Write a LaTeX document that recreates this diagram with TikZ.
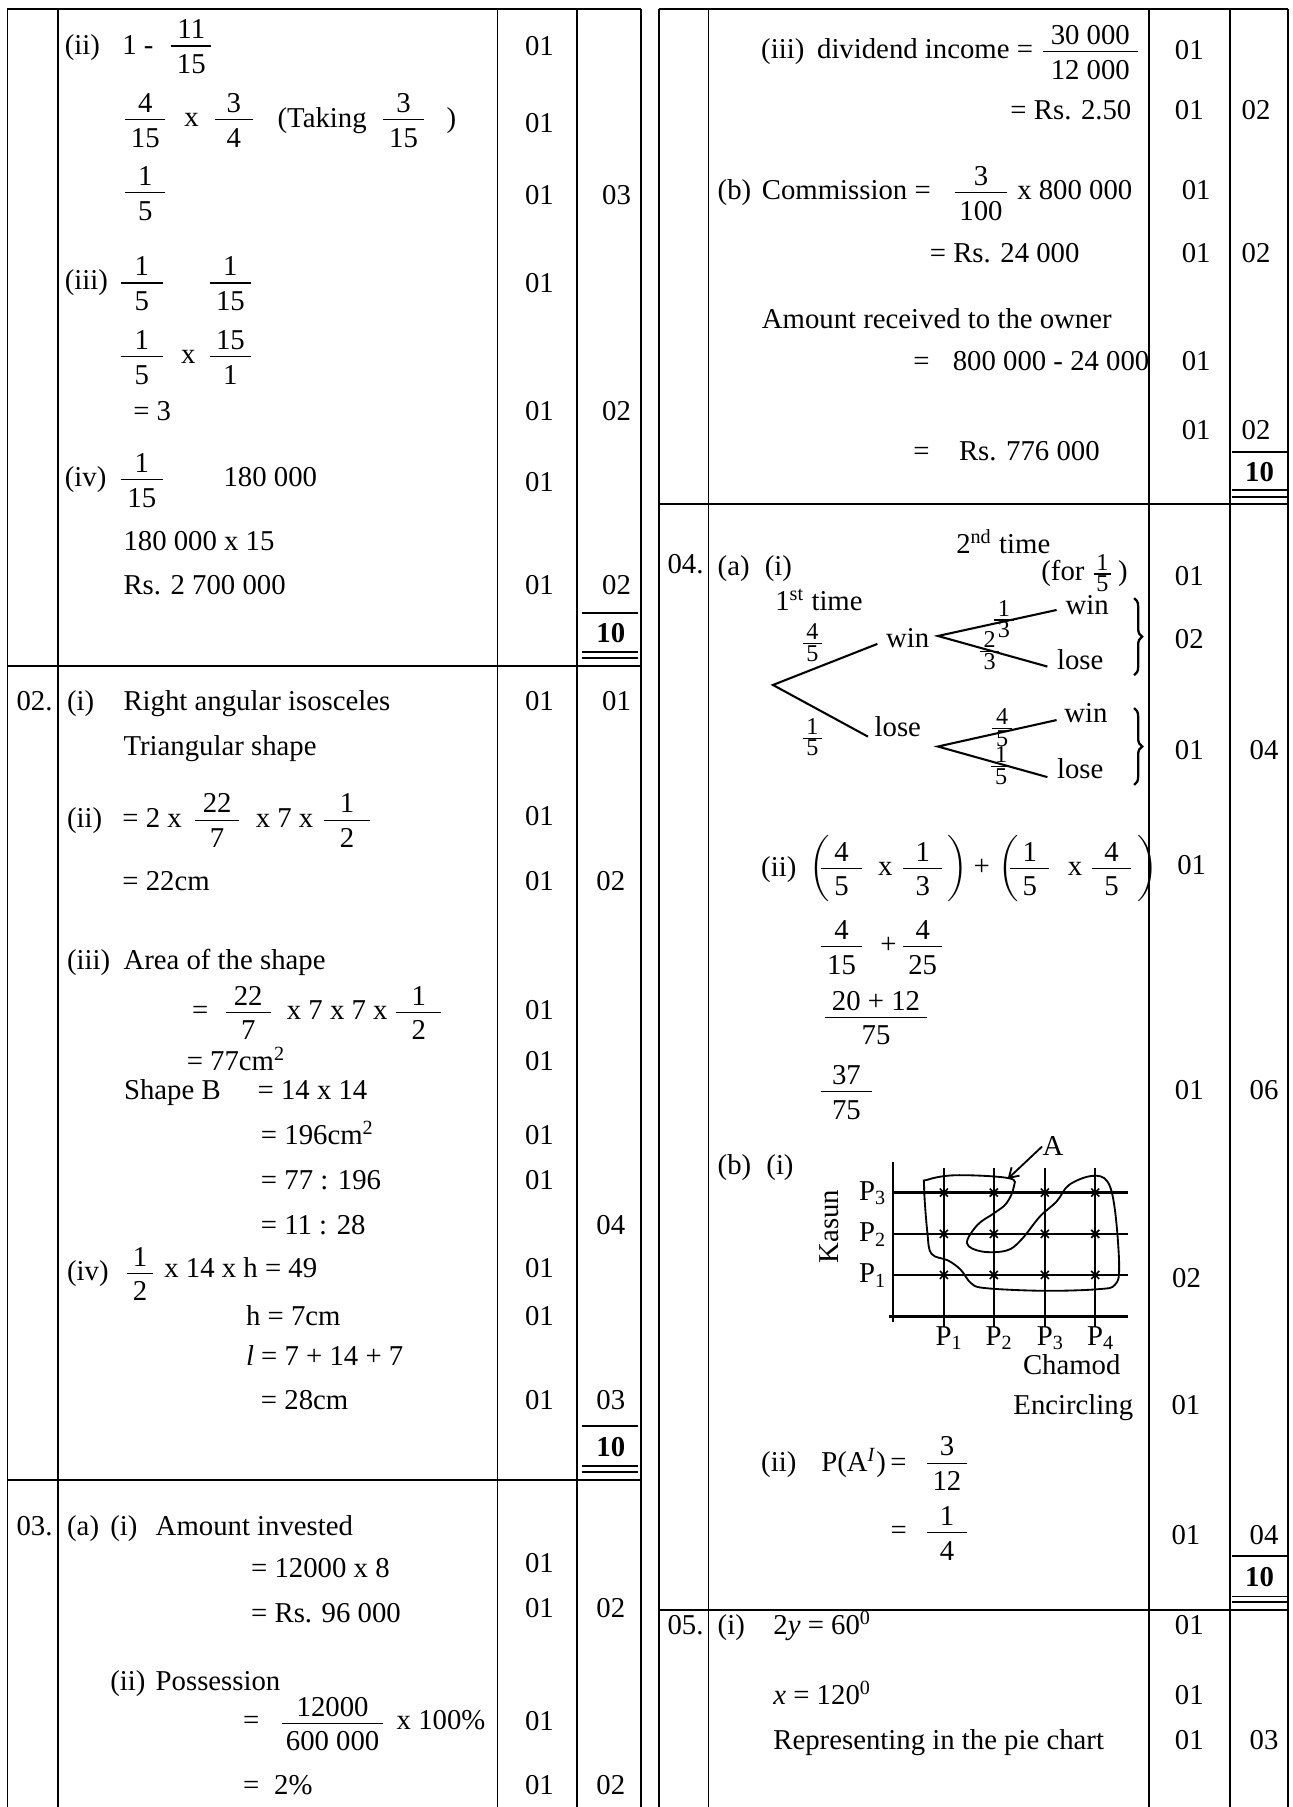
\documentclass[tikz,border=0pt]{standalone}
\usepackage{fontspec}
\setmainfont{Liberation Serif}
\usepackage{amsmath}
\usetikzlibrary{arrows.meta}
\usetikzlibrary{decorations,decorations.pathreplacing}

\newcommand{\fr}[3][17.5pt]{\ensuremath{\dfrac{\text{\raisebox{-2pt}{\makebox[#1]{#2}}}}{\text{\raisebox{-0.7pt}{\makebox[#1]{#3}}}}}}
\newcommand{\sfr}[3][8.5pt]{\ensuremath{\frac{\hbox{\fontsize{10.5}{11}\selectfont\makebox[#1]{#2}}}{\hbox{\fontsize{10.5}{11}\selectfont\makebox[#1]{#3}}}}}

\begin{document}
\begin{tikzpicture}[x=0.5pt,y=-0.5pt,
  font=\fontsize{12.5}{15}\selectfont,
  txt/.style={anchor=base west,inner sep=0pt},
  rtxt/.style={anchor=base east,inner sep=0pt},
  num/.style={anchor=base,inner sep=0pt},
  tot/.style={anchor=base,inner sep=0pt,font=\fontsize{12.5}{15}\selectfont\bfseries},
  frame/.style={line width=0.8pt},
  sep/.style={line width=1.1pt},
  branch/.style={line width=0.9pt},
  bracket/.style={decorate,decoration={brace,amplitude=3.5pt},line width=1pt}]
  \useasboundingbox (0,0) rectangle (1124,1571);

  % frames
  \draw[frame] (6.5,8) -- (557,8);
  \draw[frame] (573,8) -- (1120,8);
  \foreach \x in {6.5,50.4,432.5,502,557,573,616,999,1069,1120}
    \draw[frame] (\x,8) -- (\x,1571);
  \draw[sep] (6.5,579) -- (557,579);
  \draw[sep] (6.5,1286.6) -- (557,1286.6);
  \draw[sep] (573,438) -- (1120,438);
  \draw[sep] (573,1399.6) -- (1120,1399.6);

  % totals
  \draw[frame] (506,533) -- (555,533) (506,566.5) -- (555,566.5) (506,572) -- (555,572);
  \node[tot] (tot1) at (531,558.5) {10};
  \draw[frame] (506,1239.6) -- (555,1239.6) (506,1274.4) -- (555,1274.4) (506,1279.6) -- (555,1279.6);
  \node[tot] (tot2) at (531,1266) {10};
  \draw[frame] (1071,392.6) -- (1120,392.6) (1071,426) -- (1120,426) (1071,431.8) -- (1120,431.8);
  \node[tot] (tot3) at (1095,418.3) {10};
  \draw[frame] (1071,1353) -- (1120,1353) (1071,1388) -- (1120,1388) (1071,1393) -- (1120,1393);
  \node[tot] (tot4) at (1095,1379) {10};

  % question 1 (rest)
  \node[txt] (l1a) at (56,47.5) {(ii)};
  \node[txt] (l1b) at (106,47.5) {1 -};
  \node[txt] (l1c) at (146,46) {\fr{11}{15}};
  \node[num] (l1d) at (469,48) {01};
  \node[txt] (l2a) at (106,110) {\fr{4}{15}};
  \node[txt] (l2b) at (160,110) {x};
  \node[txt] (l2c) at (184,110) {\fr[16.5pt]{3}{4}};
  \node[txt] (l2d) at (241,110.5) {(Taking};
  \node[txt] (l2e) at (330,110) {\fr[18pt]{3}{15}};
  \node[txt] (l2f) at (388,110.5) {)};
  \node[num] (l2g) at (469,115) {01};
  \node[txt] (l3a) at (106,173.5) {\fr{1}{5}};
  \node[num] (l3b) at (469,177.5) {01};
  \node[num] (l3c) at (536,177.5) {03};
  \node[txt] (l4a) at (56,252) {(iii)};
  \node[txt] (l4b) at (102,252) {\fr[18.5pt]{1}{5}};
  \node[txt] (l4c) at (180,252) {\fr{1}{15}};
  \node[num] (l4d) at (469,254) {01};
  \node[txt] (l5a) at (102,316) {\fr[18.5pt]{1}{5}};
  \node[txt] (l5b) at (157,316) {x};
  \node[txt] (l5c) at (180,316) {\fr{15}{1}};
  \node[txt] (l6a) at (115.5,366) {= 3};
  \node[num] (l6b) at (469,366) {01};
  \node[num] (l6c) at (536,366) {02};
  \node[txt] (l7a) at (56,423) {(iv)};
  \node[txt] (l7b) at (102,423) {\fr[18.5pt]{1}{15}};
  \node[txt] (l7c) at (194,423) {180 000};
  \node[num] (l7d) at (469,427.6) {01};
  \node[txt] (l8a) at (107,479) {180 000 x 15};
  \node[txt] (l9a) at (107,516.5) {Rs. 2 700 000};
  \node[num] (l9b) at (469,516.5) {01};
  \node[num] (l9c) at (536,516.5) {02};

  % question 2
  \node[txt] (q2) at (14,618) {02.};
  \node[txt] (m1a) at (58,618) {(i)};
  \node[txt] (m1b) at (107,618) {Right angular isosceles};
  \node[num] (m1c) at (469,618) {01};
  \node[num] (m1d) at (536,618) {01};
  \node[txt] (m2a) at (107,657) {Triangular shape};
  \node[txt] (m3a) at (58,719) {(ii)};
  \node[txt] (m3b) at (106,719) {= 2 x};
  \node[txt] (m3c) at (167,719) {\fr[19pt]{22}{7}};
  \node[txt] (m3d) at (222,719) {x 7 x};
  \node[txt] (m3e) at (279,719) {\fr[20pt]{1}{2}};
  \node[num] (m3f) at (469,718) {01};
  \node[txt] (m4a) at (106,774.5) {= 22cm};
  \node[num] (m4b) at (469,774.5) {01};
  \node[num] (m4c) at (531,774.5) {02};
  \node[txt] (m5a) at (58,842.5) {(iii)};
  \node[txt] (m5b) at (107,842.5) {Area of the shape};
  \node[txt] (m6a) at (166.6,886) {=};
  \node[txt] (m6b) at (193.5,886.25) {\fr[19.5pt]{22}{7}};
  \node[txt] (m6c) at (249,886) {x 7 x 7 x};
  \node[txt] (m6d) at (341.5,886.25) {\fr[19.75pt]{1}{2}};
  \node[num] (m6e) at (469,886) {01};
  \node[txt] (m7a) at (162,931) {= 77cm\textsuperscript{2}};
  \node[num] (m7b) at (469,931) {01};
  \node[txt] (m8a) at (107.5,955.6) {Shape B};
  \node[txt] (m8b) at (223.6,955.6) {= 14 x 14};
  \node[txt] (m9a) at (226.5,994.6) {= 196cm\textsuperscript{2}};
  \node[num] (m9b) at (469,994.6) {01};
  \node[txt] (m10a) at (226.5,1033.8) {= 77 : 196};
  \node[num] (m10b) at (469,1033.8) {01};
  \node[txt] (m11a) at (226.5,1073) {= 11 : 28};
  \node[num] (m11b) at (531,1073) {04};
  \node[txt] (m12a) at (58,1113) {(iv)};
  \node[txt] (m12b) at (107.6,1113) {\fr[11.4pt]{1}{2}};
  \node[txt] (m12c) at (142.5,1111) {x 14 x h = 49};
  \node[num] (m12d) at (469,1110.6) {01};
  \node[txt] (m13a) at (213.5,1152.6) {h = 7cm};
  \node[num] (m13b) at (469,1152.6) {01};
  \node[txt] (m14a) at (213.5,1187.4) {\textit{l} = 7 + 14 + 7};
  \node[txt] (m15a) at (226.5,1225) {= 28cm};
  \node[num] (m15b) at (469,1225) {01};
  \node[num] (m15c) at (531,1225) {03};

  % question 3
  \node[txt] (q3) at (14,1335) {03.};
  \node[txt] (n1a) at (58,1335) {(a)};
  \node[txt] (n1b) at (95.6,1335) {(i)};
  \node[txt] (n1c) at (135,1335) {Amount invested};
  \node[txt] (n2a) at (218,1371.4) {= 12000 x 8};
  \node[num] (n2b) at (469,1367) {01};
  \node[txt] (n3a) at (218,1410.5) {= Rs. 96 000};
  \node[num] (n3b) at (469,1406) {01};
  \node[num] (n3c) at (531,1406) {02};
  \node[txt] (n4a) at (95.6,1470) {(ii)};
  \node[txt] (n4b) at (135,1470) {Possession};
  \node[txt] (n5a) at (211,1504) {=};
  \node[txt] (n5b) at (242.6,1504.25) {\fr[43.8pt]{12000}{600 000}};
  \node[txt] (n5c) at (344.5,1504) {x 100\%};
  \node[num] (n5d) at (469,1504.7) {01};
  \node[txt] (n6a) at (211,1559.7) {=};
  \node[txt] (n6b) at (238,1559.7) {2\%};
  \node[num] (n6c) at (469,1559.7) {01};
  \node[num] (n6d) at (531,1559.7) {02};

  % question 3 (rest)
  \node[txt] (r1a) at (661.4,51) {(iii)};
  \node[txt] (r1b) at (710,51) {dividend income =};
  \node[txt] (r1c) at (903.6,51) {\fr[41.5pt]{30 000}{12 000}};
  \node[num] (r1d) at (1034,51.5) {01};
  \node[rtxt] (r2a) at (984,103.6) {= Rs. 2.50};
  \node[num] (r2b) at (1034,103.6) {01};
  \node[num] (r2c) at (1092,103.6) {02};
  \node[txt] (r3a) at (623.6,173) {(b)};
  \node[txt] (r3b) at (662,173) {Commission =};
  \node[txt] (r3c) at (827.6,173.7) {\fr[22.5pt]{3}{100}};
  \node[txt] (r3d) at (884,173) {x 800 000};
  \node[num] (r3e) at (1040,173) {01};
  \node[txt] (r4a) at (808,228) {= Rs. 24 000};
  \node[num] (r4b) at (1040,228) {01};
  \node[num] (r4c) at (1092,228) {02};
  \node[txt] (r5a) at (662,286) {Amount received to the owner};
  \node[txt] (r6a) at (793.6,322.4) {=};
  \node[txt] (r6b) at (828,322.4) {800 000 - 24 000};
  \node[num] (r6c) at (1040,322.4) {01};
  \node[txt] (r7a) at (793.6,400.6) {=};
  \node[txt] (r7b) at (833.4,400.6) {Rs. 776 000};
  \node[num] (r7c) at (1040,381.8) {01};
  \node[num] (r7d) at (1092,381.8) {02};

  % question 4 (a) tree
  \node[txt] (q4) at (580,499) {04.};
  \node[txt] (s1a) at (623.6,500.6) {(a)\; (i)};
  \node[txt] (t2nd) at (831,481) {2\textsuperscript{nd} time};
  \node[txt] (tfor) at (905,505) {(for \sfr[7pt]{1}{5}\,)};
  \node[num] (s1b) at (1034,509.3) {01};
  \node[txt] (t1st) at (673.7,531) {1\textsuperscript{st} time};
  \coordinate (root) at (672,595.5);
  \coordinate (w1) at (762.8,559.8);
  \coordinate (l1) at (754.6,640.4);
  \draw[branch] (w1) -- (root) -- (l1);
  \coordinate (wa) at (815.4,552.9);
  \coordinate (wwin) at (918.6,530.3);
  \coordinate (wlose) at (910.6,579.5);
  \draw[branch] (wwin) -- (wa) -- (wlose);
  \coordinate (la) at (815.4,649);
  \coordinate (lwin) at (918.6,626);
  \coordinate (llose) at (910.6,675.6);
  \draw[branch] (lwin) -- (la) -- (llose);
  \node[txt] (f45) at (695,565.5) {\sfr{4}{5}};
  \node[txt] (f15) at (695,648) {\sfr{1}{5}};
  \node[txt] (win1) at (770,563) {win};
  \node[txt] (lose1) at (760,640) {lose};
  \node[txt] (win2) at (926,534) {win};
  \node[txt] (lose2) at (918.6,582) {lose};
  \node[txt] (f13) at (861.5,545) {\sfr{1}{3}};
  \node[txt] (f23) at (849,572.7) {\sfr{2}{3}};
  \node[txt] (win3) at (925,628) {win};
  \node[txt] (lose3) at (918.6,676.5) {lose};
  \node[txt] (f45b) at (860,639.5) {\sfr{4}{5}};
  \node[txt] (f15b) at (859,672.5) {\sfr{1}{5}};
  \draw[bracket] (986,520) -- (986,587);
  \draw[bracket] (986,615.6) -- (986,682.4);
  \node[num] (s2a) at (1034,564) {02};
  \node[num] (s2b) at (1034,660) {01};
  \node[num] (s2c) at (1099,660) {04};

  % question 4 (a)(ii)
  \node[txt] (u1a) at (661.4,762) {(ii)};
  \node[txt] (u1b) at (703,761) {$\left(\vphantom{\fr{4}{5}}\right.$};
  \node[txt] (u1c) at (711.4,761) {\fr[17.4pt]{4}{5}};
  \node[txt] (u1d) at (763,761) {x};
  \node[txt] (u1e) at (782.2,761) {\fr[17.2pt]{1}{3}};
  \node[txt] (u1f) at (821,761) {$\left.\vphantom{\fr{4}{5}}\right)$};
  \node[txt] (u1g) at (846,761) {+};
  \node[txt] (u1h) at (867.6,761) {$\left(\vphantom{\fr{4}{5}}\right.$};
  \node[txt] (u1i) at (875.6,761) {\fr[17pt]{1}{5}};
  \node[txt] (u1j) at (928,761) {x};
  \node[txt] (u1k) at (946.6,761) {\fr[17pt]{4}{5}};
  \node[txt] (u1l) at (986,761) {$\left.\vphantom{\fr{4}{5}}\right)$};
  \node[num] (u1m) at (1036,760) {01};
  \node[txt] (u2a) at (711.4,829) {\fr[17.4pt]{4}{15}};
  \node[txt] (u2b) at (765,829) {+};
  \node[txt] (u2c) at (782.2,829) {\fr[17.2pt]{4}{25}};
  \node[txt] (u3a) at (714.4,890.6) {\fr[44.4pt]{20 + 12}{75}};
  \node[txt] (u4a) at (710.6,955.2) {\fr[22.5pt]{37}{75}};
  \node[num] (u4b) at (1034,955.6) {01};
  \node[num] (u4c) at (1099,955.6) {06};

  % question 4 (b) grid
  \node[txt] (v1a) at (623.6,1021.5) {(b)\; (i)};
  \draw[line width=1pt] (776.2,1009.8) -- (776.2,1149);
  \draw[line width=1pt] (772.9,1144.6) -- (980.8,1144.6);
  \foreach \y in {1036.8,1072.7,1108.4}
    \draw[line width=1pt] (776.2,\y) -- (980.8,\y);
  \foreach \x in {820.6,864,908.4,952.2}
    \draw[line width=1pt] (\x,1015.6) -- (\x,1153.3);
  \foreach \x in {820.6,864,908.4,952.2}
    \foreach \y in {1036.8,1072.7,1108.4}
      \draw[line width=0.7pt] (\x,\y) ++(-3.5,-3.5) -- ++(7,7) ++(0,-7) -- ++(-7,7);
  \draw[line width=0.8pt] plot[smooth cycle,tension=0.6] coordinates {
    (806.3,1025.7) (831.7,1021.7) (877,1024.3) (881.3,1032.1) (875.1,1046)
    (864.3,1054.7) (849.8,1064.9) (840.7,1080.8) (853.4,1088) (875.1,1087.2)
    (887.8,1077.9) (904.1,1057.6) (918.6,1044.6) (929.5,1030.1) (949.4,1022.3)
    (962.8,1027.2) (969.3,1051.8) (973,1101.1) (969.3,1117) (954.8,1120.8)
    (907.7,1122.2) (857,1119.9) (844.3,1115.6) (835.3,1104) (824.4,1095.9)
    (809.9,1090.1) (806.3,1072.1) (803.4,1031.5)};
  \node[rtxt] (py3) at (771,1043.8) {P\textsubscript{3}};
  \node[rtxt] (py2) at (771,1079.7) {P\textsubscript{2}};
  \node[rtxt] (py1) at (771,1115.4) {P\textsubscript{1}};
  \node[rotate=90,inner sep=0pt] (kasun) at (721,1066.4) {Kasun};
  \node[txt] (px1) at (813,1169.5) {P\textsubscript{1}};
  \node[txt] (px2) at (856.5,1169.5) {P\textsubscript{2}};
  \node[txt] (px3) at (901,1169.5) {P\textsubscript{3}};
  \node[txt] (px4) at (944.7,1169.5) {P\textsubscript{4}};
  \node[txt] (chamod) at (889,1195) {Chamod};
  \node[txt] (lblA) at (906,1005) {A};
  \coordinate (atip) at (876,1025);
  \draw[-{Straight Barb[length=4pt,width=5pt]},line width=0.8pt] (lblA.west) -- (atip);
  \node[num] (v1b) at (1031.6,1119.5) {02};
  \node[rtxt] (encl) at (985.6,1230) {Encircling};
  \node[num] (v2a) at (1031,1230) {01};
  \node[txt] (v3a) at (661.4,1279) {(ii)};
  \node[txt] (v3b) at (713.7,1279) {P(A\textsuperscript{\textit{I}})};
  \node[txt] (v3c) at (773.7,1279) {=};
  \node[txt] (v3d) at (803.5,1278) {\fr[17pt]{3}{12}};
  \node[txt] (v4a) at (774,1338.6) {=};
  \node[txt] (v4b) at (803.5,1338.6) {\fr[17pt]{1}{4}};
  \node[num] (v4c) at (1031,1342.4) {01};
  \node[num] (v4d) at (1099,1342.4) {04};

  % question 5
  \node[txt] (q5) at (580,1420.6) {05.};
  \node[txt] (w1a) at (623.6,1421) {(i)};
  \node[txt] (w1b) at (672,1421) {2\textit{y} = 60\textsuperscript{0}};
  \node[num] (w1c) at (1034,1421) {01};
  \node[txt] (w2a) at (672,1481.5) {\textit{x} = 120\textsuperscript{0}};
  \node[num] (w2b) at (1034,1481.5) {01};
  \node[txt] (w3a) at (672,1520.6) {Representing in the pie chart};
  \node[num] (w3b) at (1034,1520.6) {01};
  \node[num] (w3c) at (1099,1520.6) {03};
\end{tikzpicture}
\end{document}
